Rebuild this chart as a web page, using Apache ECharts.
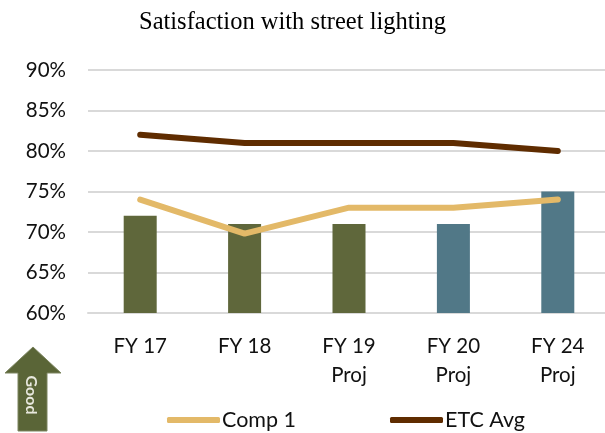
<!DOCTYPE html>
<html><head><meta charset="utf-8">
<style>html,body{margin:0;padding:0;background:#fff}#c{width:605px;height:433px}</style>
<script src="https://cdn.jsdelivr.net/npm/echarts@6/dist/echarts.min.js"></script>
</head><body><div id="c"></div>
<script>
const categories = ['FY 17','FY 18','FY 19\nProj','FY 20\nProj','FY 24\nProj'];
const barValues = [72,71,71,71,75];
const barColors = ['#5f673b','#5f673b','#5f673b','#517887','#517887'];
const comp1 = [74,69.8,73,73,74];
const etcAvg = [82,81,81,81,80];
const font = 'Lato, "Open Sans", sans-serif';
const chart = echarts.init(document.getElementById('c'));
chart.setOption({
  animation:false,
  backgroundColor:'#fff',
  title:{text:'Satisfaction with street lighting',left:139,top:10,padding:0,
    textStyle:{fontFamily:'"Liberation Serif",serif',fontSize:24.5,fontWeight:'normal',color:'#000'}},
  grid:{left:88,top:70,width:522,height:243,containLabel:false,outerBoundsMode:'none'},
  xAxis:{type:'category',data:categories,
    axisLine:{show:true,lineStyle:{color:'#d9d9d9',width:2}},axisTick:{show:false},
    axisLabel:{fontFamily:font,fontSize:20.5,color:'#111',margin:19,lineHeight:29,interval:0}},
  yAxis:{type:'value',min:60,max:90,interval:5,
    axisLine:{show:false},axisTick:{show:false},
    splitLine:{lineStyle:{color:'#d9d9d9',width:2}},
    axisLabel:{fontFamily:font,fontSize:20.5,color:'#111',margin:22,formatter:'{value}%'}},
  legend:[{data:[{name:'Comp 1',icon:'roundRect',itemStyle:{color:'#e3b968'}}],left:162,top:404,itemWidth:53,itemHeight:6,itemGap:0,
    textStyle:{fontFamily:font,fontSize:21.5,color:'#111',padding:[0,0,0,-3]}},
    {data:[{name:'ETC Avg',icon:'roundRect',itemStyle:{color:'#5f2c00'}}],left:385,top:404,itemWidth:53,itemHeight:6,itemGap:0,
    textStyle:{fontFamily:font,fontSize:21.5,color:'#111',padding:[0,0,0,-3]}}],
  series:[
    {type:'bar',name:'Score',barWidth:33,data:barValues.map((v,i)=>({value:v,itemStyle:{color:barColors[i]}}))},
    {type:'line',name:'Comp 1',data:comp1,symbol:'none',lineStyle:{color:'#e3b968',width:6,cap:'round'},itemStyle:{color:'#e3b968'},z:3},
    {type:'line',name:'ETC Avg',data:etcAvg,symbol:'none',lineStyle:{color:'#5f2c00',width:6,cap:'round'},itemStyle:{color:'#5f2c00'},z:4}
  ],
  graphic:[
    {type:'polygon',shape:{points:[[33,347],[61,373],[47,373],[47,431],[18,431],[18,373],[5,373]]},
      style:{fill:'#5a6537',stroke:'#7c8560',lineWidth:1}},
    {type:'text',x:31,y:395,rotation:-Math.PI/2,
      style:{text:'Good',fill:'#e8e8de',font:'bold 16px '+font,align:'center',verticalAlign:'middle'}}
  ]
});
</script></body></html>
